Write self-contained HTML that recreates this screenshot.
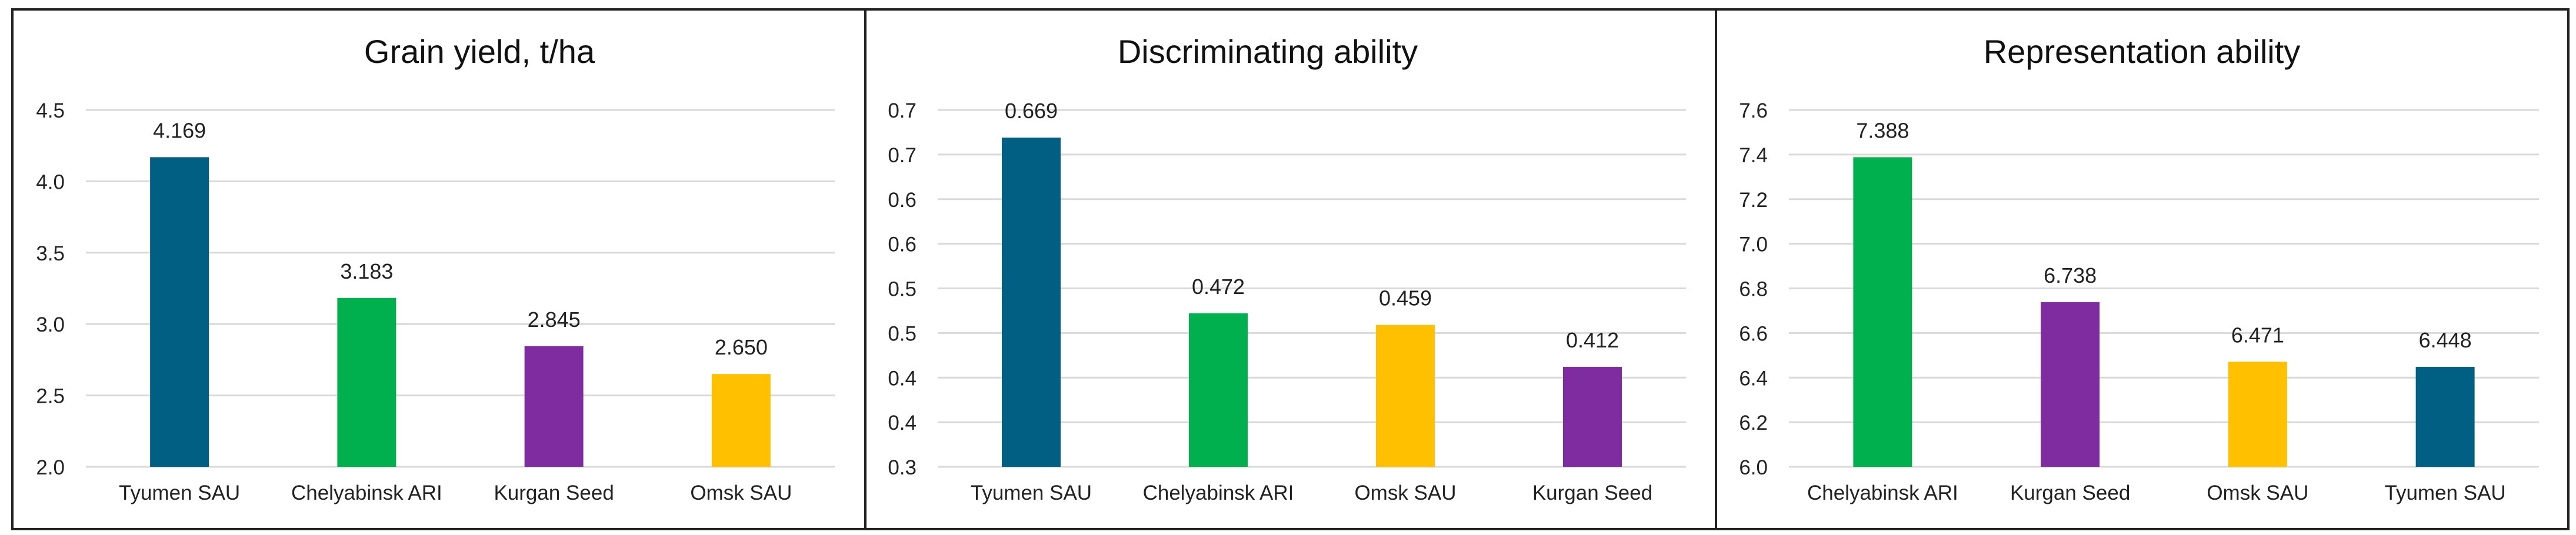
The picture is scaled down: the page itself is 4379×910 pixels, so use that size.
<!DOCTYPE html>
<html><head><meta charset="utf-8"><style>
html,body{margin:0;padding:0;background:#fff;}
svg{display:block;font-family:"Liberation Sans",sans-serif;}
</style></head><body>
<svg id="chart" width="4379" height="910" viewBox="0 0 4379 910">
<rect x="21" y="16" width="4345" height="884" fill="#fff" stroke="#222" stroke-width="4"/>
<line x1="1471" y1="16" x2="1471" y2="900" stroke="#222" stroke-width="4"/>
<line x1="2917" y1="16" x2="2917" y2="900" stroke="#222" stroke-width="4"/>
</svg>
<script>
const COL = {teal:"#005f82", green:"#00b04f", purple:"#7f2ca0", yellow:"#ffc000"};
// Panel 1: Grain yield
const cats1 = ["Tyumen SAU","Chelyabinsk ARI","Kurgan Seed","Omsk SAU"];
const vals1 = [4.169,3.183,2.845,2.650];
const labels1 = ["4.169","3.183","2.845","2.650"];
const colors1 = ["teal","green","purple","yellow"];
const ticks1 = [2.0,2.5,3.0,3.5,4.0,4.5];
const tickLabels1 = ["2.0","2.5","3.0","3.5","4.0","4.5"];
// Panel 2: Discriminating ability
const cats2 = ["Tyumen SAU","Chelyabinsk ARI","Omsk SAU","Kurgan Seed"];
const vals2 = [0.669,0.472,0.459,0.412];
const labels2 = ["0.669","0.472","0.459","0.412"];
const colors2 = ["teal","green","yellow","purple"];
const ticks2 = [0.30,0.35,0.40,0.45,0.50,0.55,0.60,0.65,0.70];
const tickLabels2 = ["0.3","0.4","0.4","0.5","0.5","0.6","0.6","0.7","0.7"];
// Panel 3: Representation ability
const cats3 = ["Chelyabinsk ARI","Kurgan Seed","Omsk SAU","Tyumen SAU"];
const vals3 = [7.388,6.738,6.471,6.448];
const labels3 = ["7.388","6.738","6.471","6.448"];
const colors3 = ["green","purple","yellow","teal"];
const ticks3 = [6.0,6.2,6.4,6.6,6.8,7.0,7.2,7.4,7.6];
const tickLabels3 = ["6.0","6.2","6.4","6.6","6.8","7.0","7.2","7.4","7.6"];

const svg = document.getElementById('chart');
const NS = "http://www.w3.org/2000/svg";
function mk(tag, attrs, text){
  const e = document.createElementNS(NS, tag);
  for (const k in attrs) e.setAttribute(k, attrs[k]);
  if (text !== undefined) e.textContent = text;
  svg.appendChild(e);
  return e;
}
function panel(key, title, titleX, x0, x1, cats, vals, labels, colors, ticks, tickLabels){
  const yTop = 187, yBot = 794;
  const vmin = ticks[0], vmax = ticks[ticks.length-1];
  const y = v => yBot - (v - vmin) / (vmax - vmin) * (yBot - yTop);
  const bw = (x1 - x0) / cats.length;
  const xc = i => x0 + bw * (i + 0.5);
  const t = mk('text', {x:titleX, y:107, 'font-size':56, 'text-anchor':'middle', fill:'#111'}, title);
  
  
  ticks.forEach((v, i) => {
    const g = mk('line', {x1:x0, x2:x1, y1:y(v), y2:y(v), stroke:'#d9d9d9', 'stroke-width':3});
    
    
    const tl = mk('text', {x:x0 - 36, y:y(v) + 13, 'font-size':35, 'text-anchor':'end', fill:'#222'}, tickLabels[i]);
    
    
  });
  cats.forEach((c, i) => {
    const top = y(vals[i]);
    const b = mk('rect', {x:xc(i) - 50, y:top, width:100, height:yBot - top, fill:COL[colors[i]]});
    
    
    const vl = mk('text', {x:xc(i), y:top - 33, 'font-size':36, 'text-anchor':'middle', fill:'#222'}, labels[i]);
    
    
    const cl = mk('text', {x:xc(i), y:850, 'font-size':35, 'text-anchor':'middle', fill:'#222'}, c);
    
    
  });
}
panel('grain-yield', 'Grain yield, t/ha', 815, 146, 1419, cats1, vals1, labels1, colors1, ticks1, tickLabels1);
panel('discriminating', 'Discriminating ability', 2155, 1594, 2866, cats2, vals2, labels2, colors2, ticks2, tickLabels2);
panel('representation', 'Representation ability', 3641, 3041, 4316, cats3, vals3, labels3, colors3, ticks3, tickLabels3);
</script>
</body></html>
